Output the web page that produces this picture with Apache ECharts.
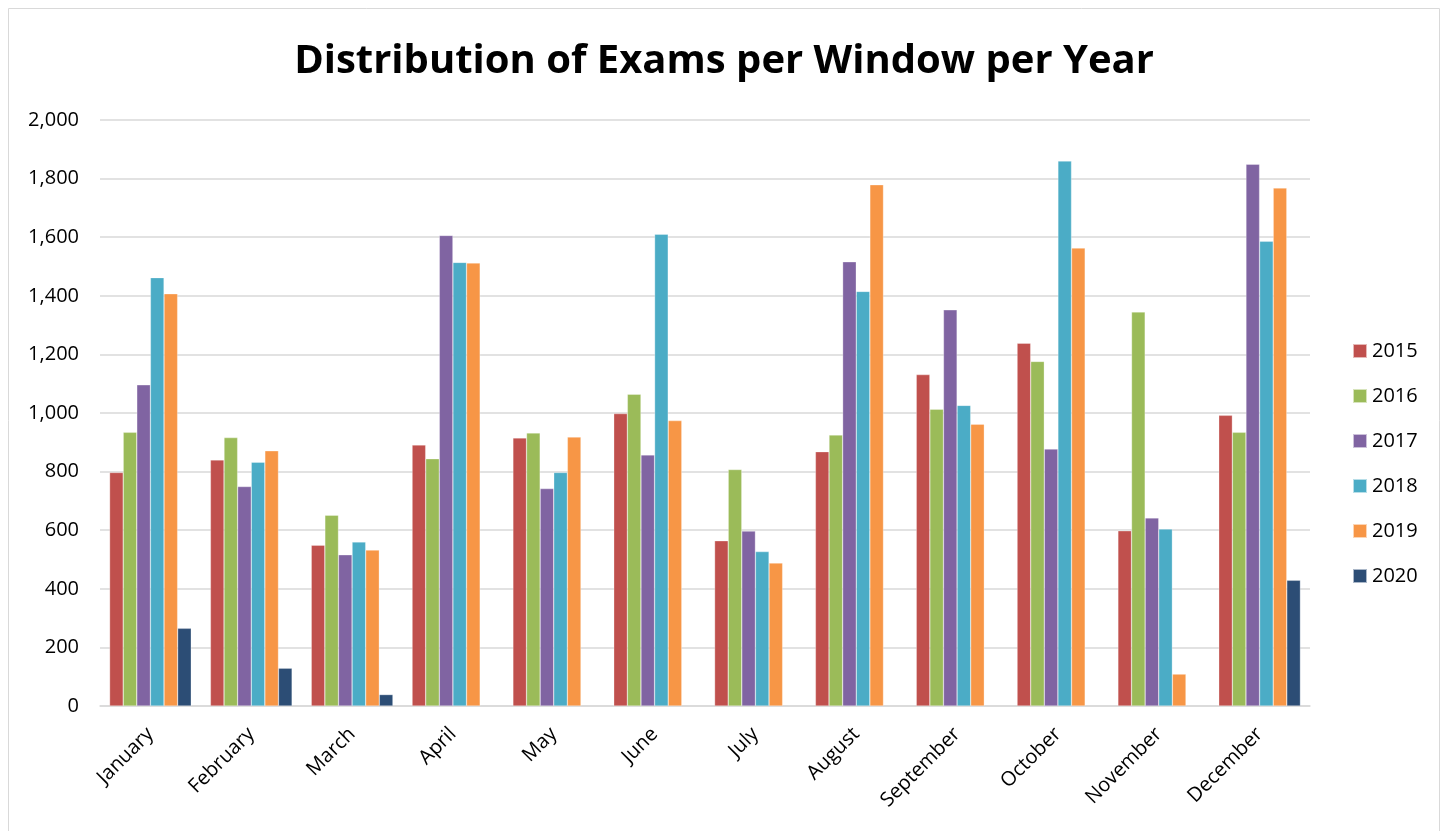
<!DOCTYPE html>
<html><head><meta charset="utf-8">
<script src="https://cdn.jsdelivr.net/npm/echarts@6/dist/echarts.min.js"></script>
<style>html,body{margin:0;padding:0;background:#fff}#c{width:1448px;height:831px}</style>
</head><body><div id="c"></div>
<script>
const months = ['January','February','March','April','May','June','July','August','September','October','November','December'];
const years = ['2015','2016','2017','2018','2019','2020'];
const v2015 = [797, 840, 549, 891, 915, 998, 564, 868, 1131, 1238, 598, 992];
const v2016 = [934, 916, 651, 844, 932, 1064, 807, 925, 1013, 1176, 1345, 934];
const v2017 = [1096, 749, 516, 1606, 742, 857, 597, 1516, 1352, 877, 642, 1849];
const v2018 = [1462, 832, 560, 1514, 797, 1610, 527, 1415, 1026, 1860, 604, 1586];
const v2019 = [1407, 871, 532, 1512, 918, 974, 488, 1779, 962, 1563, 109, 1768];
const v2020 = [265, 129, 39, null, null, null, null, null, null, null, null, 429];
const colors = ['#C0504D','#9BBB59','#8064A2','#4BACC6','#F79646','#2C4D75'];
const seriesData = [v2015, v2016, v2017, v2018, v2019, v2020];
const font = '"Open Sans", Lato, sans-serif';
const chart = echarts.init(document.getElementById('c'));
chart.setOption({
  animation: false,
  color: colors,
  graphic: [{type:'rect', shape:{x:8.5,y:8.5,width:1431,height:840}, style:{fill:'none', stroke:'#d9d9d9', lineWidth:1}}],
  title: {text:'Distribution of Exams per Window per Year', left:'center', top:37,
    textStyle:{fontFamily:font, fontWeight:'bold', fontSize:40, color:'#000'}},
  legend: {orient:'vertical', left:1347, top:336, itemWidth:14, itemHeight:14, itemGap:25,
    icon:'rect', textStyle:{fontFamily:font, fontSize:20, color:'#000'}, data: years},
  grid: {left:100, right:138, top:120, bottom:125},
  xAxis: {type:'category', data: months,
    axisLine:{lineStyle:{color:'#d9d9d9', width:1.5}}, axisTick:{show:false},
    axisLabel:{rotate:45, fontFamily:font, fontSize:20, color:'#000', margin:25, interval:0}},
  yAxis: {type:'value', min:0, max:2000, interval:200,
    axisLine:{show:false}, axisTick:{show:false},
    splitLine:{lineStyle:{color:'#d9d9d9', width:1.5}},
    axisLabel:{fontFamily:font, fontSize:20, color:'#000', margin:21,
      formatter: v => v.toLocaleString('en-US')}},
  series: years.map((y,i)=>({name:y, type:'bar', data: seriesData[i], barGap:'0%', barCategoryGap:'19%',
    itemStyle:{color:colors[i], borderColor:'rgba(255,255,255,0.6)', borderWidth:0.5}}))
});
</script></body></html>
